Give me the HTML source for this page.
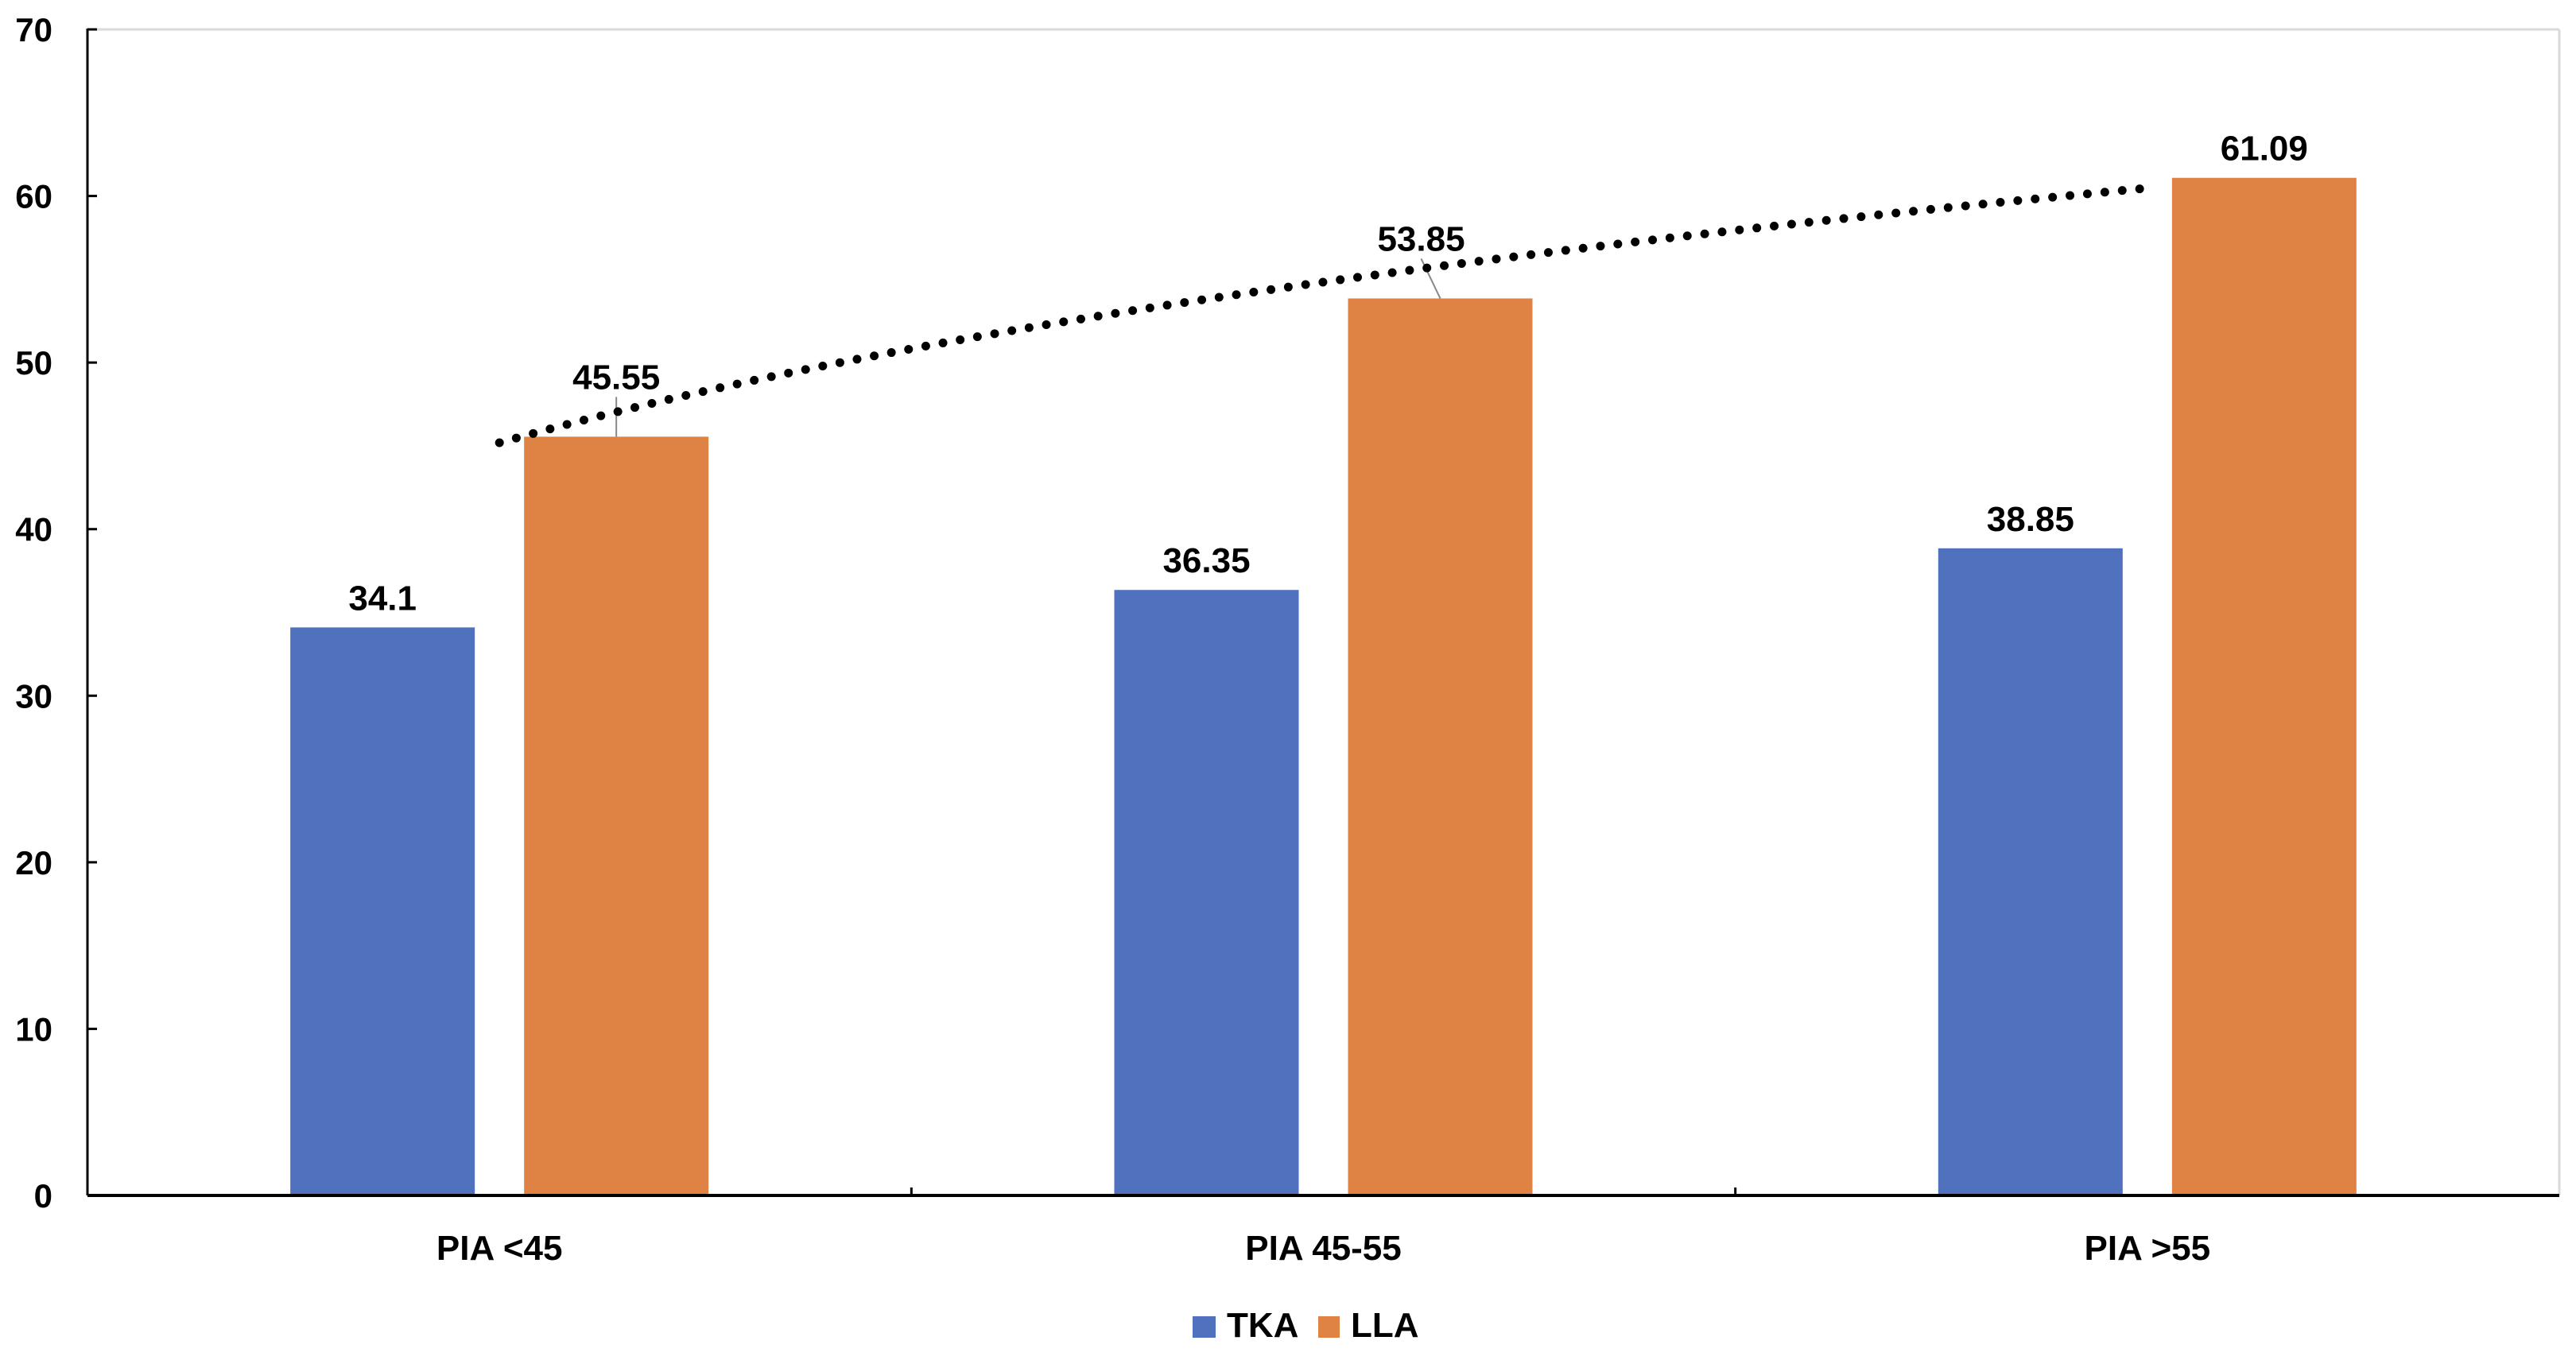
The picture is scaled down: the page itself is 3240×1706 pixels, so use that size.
<!DOCTYPE html>
<html><head><meta charset="utf-8"><style>
html,body{margin:0;padding:0;background:#fff;}
svg{display:block;font-family:"Liberation Sans",sans-serif;font-weight:bold;}
</style></head><body>
<svg id="chart" width="3240" height="1706" viewBox="0 0 3240 1706" xmlns="http://www.w3.org/2000/svg"></svg>
<script>
const categories = ["PIA <45", "PIA 45-55", "PIA >55"];
const tkaValues = [34.1, 36.35, 38.85];
const llaValues = [45.55, 53.85, 61.09];
const tkaLabels = ["34.1", "36.35", "38.85"];
const llaLabels = ["45.55", "53.85", "61.09"];
const yTicks = [0, 10, 20, 30, 40, 50, 60, 70];

const NS = "http://www.w3.org/2000/svg";
const svgEl = document.getElementById("chart");
const L = 110, R = 3219, T = 37, B = 1504, yMax = 70;
const catW = (R - L) / categories.length;
const barW = 232, off = 147;
function yS(v){ return B - (v / yMax) * (B - T); }
function xC(i){ return L + catW * (i + 0.5); }
function mk(tag, attrs, parent){
  const e = document.createElementNS(NS, tag);
  for (const k in attrs) e.setAttribute(k, attrs[k]);
  (parent || svgEl).appendChild(e);
  return e;
}

const topLine = mk("line", {x1:L, y1:T, x2:R, y2:T, stroke:"#d9d9d9", "stroke-width":3});


const rightBorder = mk("line", {x1:R, y1:T, x2:R, y2:B, stroke:"#d9d9d9", "stroke-width":3});



yTicks.forEach(v => {
  const y = yS(v);
  const tk = mk("line", {x1:L, y1:y, x2:L + 12, y2:y, stroke:"#000", "stroke-width":3});
  
  
  const t = mk("text", {x:66, y:y + 15, "text-anchor":"end", "font-size":42, fill:"#000"});
  t.textContent = v;
  
  
});

categories.forEach((c, i) => {
  const cx = xC(i);
  const tb = mk("rect", {x:cx - off - barW/2, y:yS(tkaValues[i]), width:barW, height:B - yS(tkaValues[i]), fill:"#4f71be"});
  
  
  const lb = mk("rect", {x:cx + off - barW/2, y:yS(llaValues[i]), width:barW, height:B - yS(llaValues[i]), fill:"#de8344"});
  
  
  const tl = mk("text", {x:cx - off, y:yS(tkaValues[i]) - 22, "text-anchor":"middle", "font-size":44, fill:"#000"});
  tl.textContent = tkaLabels[i];
  
  
  const cl = mk("text", {x:cx, y:1585, "text-anchor":"middle", "font-size":44, fill:"#000"});
  cl.textContent = c;
  
  
});

llaValues.forEach((v, i) => {
  const bx = xC(i) + off;
  let labX = bx, labY = yS(v) - 22;
  if (i === 0) { labY = yS(v) - 60; }
  if (i === 1) { labX = bx - 24; labY = yS(v) - 60; }
  if (i < 2) {
    const ld = mk("line", {x1:labX, y1:labY + 10, x2:bx, y2:yS(v), stroke:"#888", "stroke-width":2});
    
    
  }
  const t = mk("text", {x:labX, y:labY, "text-anchor":"middle", "font-size":44, fill:"#000"});
  t.textContent = llaLabels[i];
  
  
});

const n = llaValues.length;
const logX = llaValues.map((_, i) => Math.log(i + 1));
const mx = logX.reduce((a, b) => a + b, 0) / n;
const my = llaValues.reduce((a, b) => a + b, 0) / n;
let sxy = 0, sxx = 0;
for (let i = 0; i < n; i++){ sxy += (logX[i] - mx) * (llaValues[i] - my); sxx += (logX[i] - mx) ** 2; }
const bCoef = sxy / sxx, aCoef = my - bCoef * mx;
let d = "";
for (let k = 0; k <= 100; k++){
  const xv = 1 + (n - 1) * k / 100;
  const px = xC(0) + (xC(n - 1) - xC(0)) * (xv - 1) / (n - 1);
  const py = yS(aCoef + bCoef * Math.log(xv));
  d += (k ? "L" : "M") + px.toFixed(1) + " " + py.toFixed(1);
}
const tr = mk("path", {d:d, fill:"none", stroke:"#000", "stroke-width":11, "stroke-linecap":"round", "stroke-dasharray":"0 22"});



const ya = mk("line", {x1:L, y1:T - 1, x2:L, y2:B, stroke:"#000", "stroke-width":3});


const xa = mk("line", {x1:L, y1:B, x2:R, y2:B, stroke:"#000", "stroke-width":4});


for (let i = 1; i < categories.length; i++){
  const t = mk("line", {x1:L + catW * i, y1:B, x2:L + catW * i, y2:B - 10, stroke:"#000", "stroke-width":3});
  
  
}

const lg = mk("g", {});


const s1 = mk("rect", {x:1500, y:1656, width:29, height:27, fill:"#4f71be"}, lg);


const t1 = mk("text", {x:1543, y:1682, "font-size":44, fill:"#000"}, lg);
t1.textContent = "TKA";


const s2 = mk("rect", {x:1658, y:1656, width:27, height:27, fill:"#de8344"}, lg);


const t2 = mk("text", {x:1699, y:1682, "font-size":44, fill:"#000"}, lg);
t2.textContent = "LLA";


</script>
</body></html>
